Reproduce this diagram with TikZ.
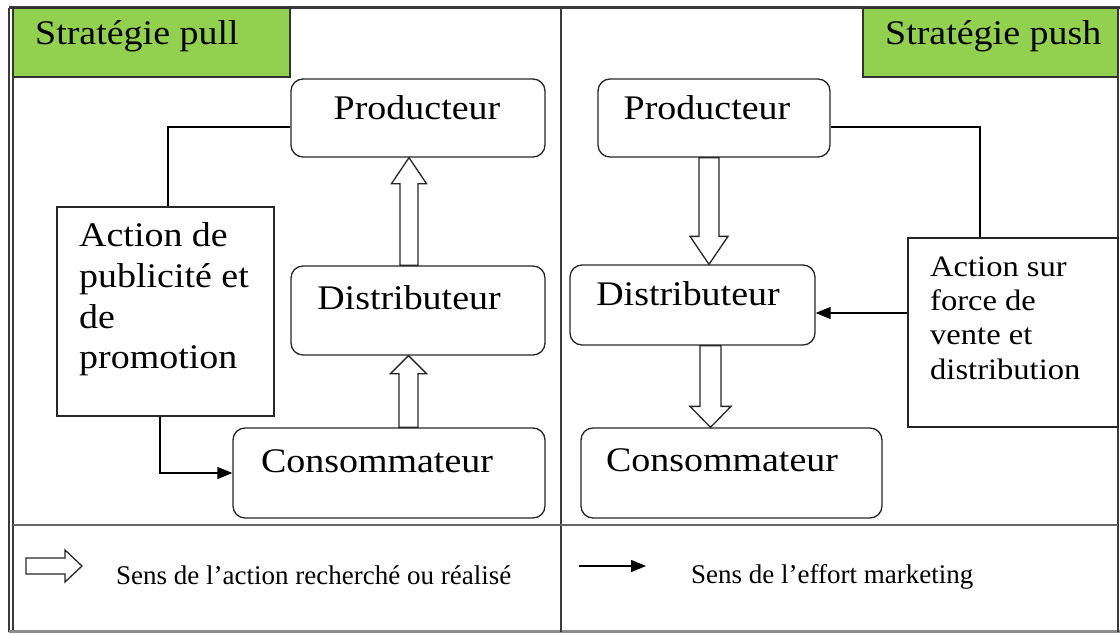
\documentclass[tikz,border=0pt]{standalone}
\usepackage{fontspec}
\setmainfont{Liberation Serif}
\newfontfamily\wide{Liberation Serif}[FakeStretch=1.1]
\usetikzlibrary{calc,arrows.meta}
\definecolor{leaf}{HTML}{92D050}
\definecolor{rule}{HTML}{3A3A3A}
\begin{document}
\begin{tikzpicture}[x=1pt,y=-1pt,
  box/.style={draw=black!85, line width=1.3pt, rounded corners=12pt, inner sep=0pt},
  plainbox/.style={draw=black!85, line width=1.3pt, inner sep=0pt},
  titlebox/.style={draw=black!80, line width=1.2pt, fill=leaf, inner sep=0pt},
  lbl/.style={font=\wide\fontsize{34.5}{38}\selectfont, inner sep=0pt, anchor=base},
  ttl/.style={font=\wide\fontsize{34.5}{38}\selectfont, inner sep=0pt, anchor=base west},
  legend/.style={font=\fontsize{27}{30}\selectfont, inner sep=0pt, anchor=base west},
  effort/.style={line width=1.3pt, -{Triangle[length=15pt,width=12pt]}},
  % hollow block arrow: {half shaft}{half head}{head length}
  hollow/.style n args={3}{line width=1.3pt, draw=black!85, fill=white, to path={
     ($(\tikztostart)!#1!90:(\tikztotarget)$)
     -- ($(\tikztotarget)!#3!(\tikztostart)!#1!-90:(\tikztostart)$)
     -- ($(\tikztotarget)!#3!(\tikztostart)!#2!-90:(\tikztostart)$)
     -- (\tikztotarget)
     -- ($(\tikztotarget)!#3!(\tikztostart)!#2!90:(\tikztostart)$)
     -- ($(\tikztotarget)!#3!(\tikztostart)!#1!90:(\tikztostart)$)
     -- ($(\tikztostart)!#1!-90:(\tikztotarget)$) -- cycle}},
]
\useasboundingbox (0,0) rectangle (1120,634);

% outer frame and dividers
\draw[rule, line width=3pt] (9,8) -- (1120,8);
\draw[rule, line width=1.5pt] (9,8) -- (9,632);
\draw[rule, line width=1.5pt] (13,8) -- (13,632);
\draw[black!45, line width=3pt] (9,631) -- (1120,631);
\draw[rule, line width=1.5pt] (1118,8) -- (1118,632);
\draw[rule, line width=1.6pt] (561,8) -- (561,632);
\draw[black!60, line width=1.6pt] (13,525) -- (1118,525);

% title tabs
\node[titlebox, minimum width=277pt, minimum height=69pt] (tabL) at (151.5,42.5) {};
\node[titlebox, minimum width=255pt, minimum height=69pt] (tabR) at (990.5,42.5) {};
\node[ttl] (ttlL) at (35,45) {Stratégie pull};
\node[ttl] (ttlR) at (885,45) {Stratégie push};

% pull strategy
\node[box, minimum width=254pt, minimum height=78pt] (pL) at (418,118) {};
\node[box, minimum width=254pt, minimum height=89pt] (dL) at (418,310.5) {};
\node[box, minimum width=312pt, minimum height=90pt] (cL) at (389,473) {};
\node[plainbox, minimum width=217pt, minimum height=209pt] (aL) at (165.5,311.5) {};
\node[lbl] (tpL) at (417,119) {Producteur};
\node[lbl] (tdL) at (409,309) {Distributeur};
\node[lbl] (tcL) at (377,472) {Consommateur};
\node[font=\wide\fontsize{34.5}{40.7}\selectfont, inner sep=0pt, anchor=north west, align=left]
  (taL) at (79,222.5) {Action de\\publicité et\\de\\promotion};

\coordinate (xl) at (409,0);
\coordinate (xl2) at (408.5,0);
\draw[hollow={9pt}{17.5pt}{26pt}] (dL.north -| xl) to (pL.south -| xl);
\draw[hollow={9.5pt}{18pt}{18pt}] (cL.north -| xl2) to (dL.south -| xl2);
\draw[line width=1.3pt] ([yshift=-9pt]pL.west) -| ([xshift=2.5pt]aL.north);
\draw[effort] ([xshift=-5.5pt]aL.south) |- (cL.west);

% push strategy
\node[box, minimum width=232pt, minimum height=78pt] (pR) at (714,118) {};
\node[box, minimum width=245pt, minimum height=80pt] (dR) at (692.5,305) {};
\node[box, minimum width=301pt, minimum height=90pt] (cR) at (731.5,473) {};
\node[plainbox, minimum width=210pt, minimum height=189pt] (aR) at (1013,332.5) {};
\node[lbl] (tpR) at (707,119) {Producteur};
\node[lbl] (tdR) at (688,305) {Distributeur};
\node[lbl] (tcR) at (722,471) {Consommateur};
\node[font=\wide\fontsize{29.6}{34.3}\selectfont, inner sep=0pt, anchor=north west, align=left]
  (taR) at (930,256.5) {Action sur\\force de\\vente et\\distribution};

\coordinate (xr) at (709,0);
\coordinate (xr2) at (710.5,0);
\draw[hollow={10pt}{19pt}{28pt}] (pR.south -| xr) to (dR.north -| xr);
\draw[hollow={10.5pt}{20.5pt}{21pt}] (dR.south -| xr2) to (cR.north -| xr2);
\draw[line width=1.3pt] ([yshift=-9pt]pR.east) -| ([xshift=-33pt]aR.north);
\draw[effort] ([yshift=19.5pt]aR.west) -- ([yshift=19.5pt]aR.west -| dR.east);

% legend
\coordinate (lgA) at (26,566);
\coordinate (lgB) at (82,566);
\draw[hollow={8pt}{16pt}{17pt}] (lgA) to (lgB);
\node[legend] (lgT1) at (116,584) {Sens de l’action recherché ou réalisé};
\coordinate (lgC) at (579,566);
\coordinate (lgD) at (646,566);
\draw[effort] (lgC) -- (lgD);
\node[legend] (lgT2) at (691,583) {Sens de l’effort marketing};
\end{tikzpicture}
\end{document}
